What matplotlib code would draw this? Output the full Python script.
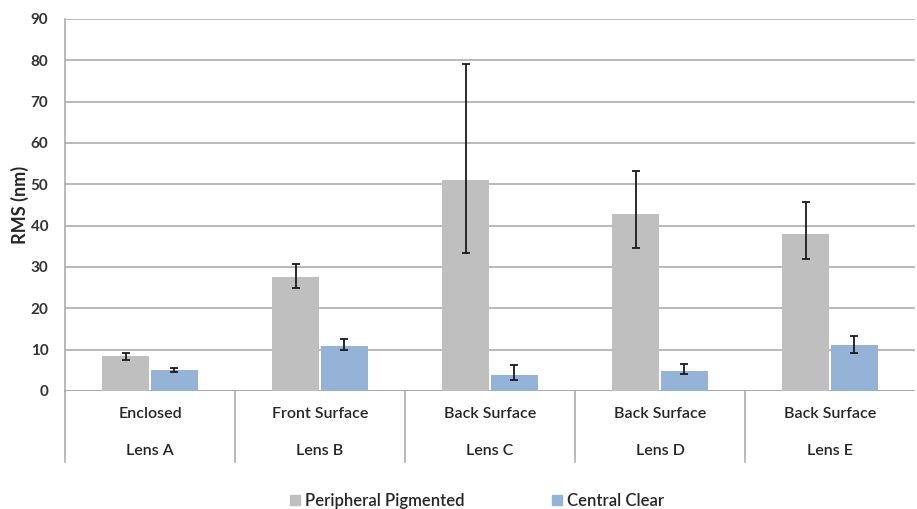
import matplotlib
matplotlib.use("Agg")
import matplotlib.pyplot as plt
import matplotlib.transforms as mtransforms
from matplotlib.patches import Patch
import numpy as np

plt.rcParams['font.family'] = ['Lato', 'DejaVu Sans']

lenses = ["Lens A", "Lens B", "Lens C", "Lens D", "Lens E"]
surfaces = ["Enclosed", "Front Surface", "Back Surface", "Back Surface", "Back Surface"]
series_names = ["Peripheral Pigmented", "Central Clear"]

peripheral = [8.4, 27.5, 51.0, 42.8, 37.9]
peripheral_lo = [7.6, 24.9, 33.3, 34.5, 32.0]
peripheral_hi = [9.3, 30.8, 79.1, 53.2, 45.7]

central = [5.0, 10.9, 3.9, 4.9, 11.1]
central_lo = [4.6, 9.8, 2.6, 4.0, 9.3]
central_hi = [5.6, 12.5, 6.3, 6.5, 13.2]

yticks = [0, 10, 20, 30, 40, 50, 60, 70, 80, 90]

gray = "#BFBFBF"
blue = "#95B3D7"
gridc = "#A6A6A6"
textc = "#262626"

fig = plt.figure(figsize=(9.17, 5.09), dpi=100)
ax = fig.add_axes([65/917, 1-391/509, 850/917, 372/509])

x = np.arange(len(lenses))
w = 0.276
off = w/2 + 0.005

def yerr(v, lo, hi):
    v = np.array(v); return np.vstack([v-np.array(lo), np.array(hi)-v])

ax.bar(x-off, peripheral, w, color=gray, zorder=3)
ax.bar(x+off, central, w, color=blue, zorder=3)
ekw = dict(fmt='none', ecolor="#1a1a1a", elinewidth=1.3, capsize=3.2, capthick=1.3, zorder=4)
ax.errorbar(x-off, peripheral, yerr=yerr(peripheral, peripheral_lo, peripheral_hi), **ekw)
ax.errorbar(x+off, central, yerr=yerr(central, central_lo, central_hi), **ekw)

ax.set_xlim(-0.5, 4.5)
ax.set_ylim(0, 90)
ax.set_yticks(yticks)
ax.set_yticklabels([str(t) for t in yticks], fontsize=11, fontweight='bold', color="#333333")
ax.tick_params(axis='y', length=0, pad=12)
ax.tick_params(axis='x', length=0, labelbottom=False)
ax.yaxis.grid(True, color=gridc, linewidth=1.1, zorder=0)
ax.set_axisbelow(True)
for s in ["top", "right", "bottom"]:
    ax.spines[s].set_visible(False)
ax.spines["left"].set_color(gridc)
ax.spines["left"].set_linewidth(1.1)
ax.axhline(0, color=gridc, linewidth=1.1, zorder=2)

ax.set_ylabel("RMS (nm)", fontsize=13, fontweight='bold', color=textc, labelpad=1)

trans = mtransforms.blended_transform_factory(ax.transData, ax.transAxes)
sep_bottom = -(462-391)/372
for xs in [-0.5, 0.5, 1.5, 2.5, 3.5]:
    ax.plot([xs, xs], [0, sep_bottom], transform=trans, color=gridc, linewidth=1.1, clip_on=False)
row1 = -(414-391)/372
row2 = -(451-391)/372
for i in range(len(lenses)):
    ax.text(x[i], row1, surfaces[i], transform=trans, ha='center', va='center', fontsize=11.5,
            fontweight='semibold', color=textc)
    ax.text(x[i], row2, lenses[i], transform=trans, ha='center', va='center', fontsize=11.5,
            fontweight='semibold', color=textc)

handles = [Patch(color=gray), Patch(color=blue)]
fig.legend(handles, series_names, loc='center', bbox_to_anchor=(477/917, 1-501/509), ncol=2,
           frameon=False, handlelength=0.6, handleheight=0.6, handletextpad=0.35,
           columnspacing=5.2, labelcolor=textc,
           prop=dict(family=['Lato', 'DejaVu Sans'], size=12, weight='semibold'))

fig.savefig("out.png", dpi=100)
